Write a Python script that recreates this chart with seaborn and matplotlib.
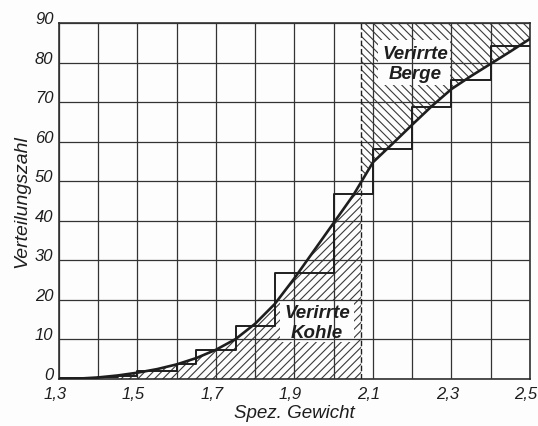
import numpy as np
import pandas as pd
import matplotlib
matplotlib.use("Agg")
import matplotlib.pyplot as plt
from matplotlib.patches import Rectangle
from matplotlib.transforms import ScaledTranslation
import seaborn as sns

# ---- data ----
step_edges = [1.3, 1.4, 1.45, 1.5, 1.6, 1.65, 1.75, 1.85, 2.0, 2.1, 2.2, 2.3, 2.4, 2.5]
step_values = [0.2, 0.5, 0.8, 1.9, 3.8, 7.3, 13.4, 26.8, 46.7, 58.2, 68.7, 75.7, 84.1, 84.1]

curve_x = [1.3, 1.35, 1.4, 1.45, 1.5, 1.55, 1.6, 1.65, 1.7, 1.75, 1.8, 1.85, 1.9,
           1.95, 2.0, 2.05, 2.1, 2.15, 2.2, 2.25, 2.3, 2.35, 2.4, 2.45, 2.5]
curve_y = [0.0, 0.1, 0.4, 0.9, 1.6, 2.5, 3.7, 5.3, 7.4, 10.1, 14.0, 19.0, 25.5,
           32.5, 39.5, 46.5, 54.8, 59.5, 64.3, 69.0, 73.3, 76.6, 79.7, 82.8, 86.0]

split_x = 2.07          # dashed separation
kohle_start = 1.45
x_ticks = [1.3, 1.4, 1.5, 1.6, 1.7, 1.8, 1.9, 2.0, 2.1, 2.2, 2.3, 2.4, 2.5]
x_ticklabels = ["1,3", "", "1,5", "", "1,7", "", "1,9", "", "2,1", "", "2,3", "", "2,5"]
y_ticks = [0, 10, 20, 30, 40, 50, 60, 70, 80, 90]
labels = ["Verirrte\nBerge", "Verirrte\nKohle"]

sns.set_theme(style="white")
plt.rcParams['font.family'] = ['Liberation Sans', 'DejaVu Sans']
plt.rcParams['hatch.linewidth'] = 0.8

ink = "#1e1e1e"
bg = "#fdfdfd"
fig = plt.figure(figsize=(5.38, 4.27), dpi=100)
fig.patch.set_facecolor(bg)
ax = fig.add_axes([59/538, 1-380/427, (530-59)/538, (380-24)/427])
ax.set_facecolor(bg)

# hatched regions
xk = np.linspace(kohle_start, split_x, 200)
ax.fill_between(xk, 0, np.interp(xk, curve_x, curve_y), facecolor="none",
                edgecolor="#3a3a3a", hatch="////", linewidth=0, zorder=1)
xb = np.linspace(split_x, 2.5, 200)
ax.fill_between(xb, np.interp(xb, curve_x, curve_y), 90, facecolor="none",
                edgecolor="#3a3a3a", hatch="\\\\\\\\", linewidth=0, zorder=1)

# white label patches (grid still runs over them)
ax.add_patch(Rectangle((2.112, 74.4), 0.185, 11.3, facecolor=bg, edgecolor="none", zorder=1.5))
ax.add_patch(Rectangle((1.862, 9.3), 0.19, 10.4, facecolor=bg, edgecolor="none", zorder=1.5))

# step and curve
step_df = pd.DataFrame({"x": step_edges, "y": step_values})
sns.lineplot(data=step_df, x="x", y="y", drawstyle="steps-post", color=ink,
             lw=1.4, estimator=None, ax=ax, zorder=4)
curve_df = pd.DataFrame({"x": curve_x, "y": curve_y})
sns.lineplot(data=curve_df, x="x", y="y", color=ink, lw=1.9, estimator=None,
             ax=ax, zorder=5)

ax.axvline(split_x, color=ink, lw=1.0, ls=(0, (4, 2)), zorder=3)

ax.set_xlim(1.3, 2.5)
ax.set_ylim(0, 90)
ax.set_xticks(x_ticks)
ax.set_xticklabels(x_ticklabels)
ax.set_yticks(y_ticks)
ax.set_axisbelow(False)
ax.grid(True, color="#333333", lw=0.9, zorder=2)
ax.tick_params(length=0, labelsize=12, labelcolor=ink)
ax.tick_params(axis="x", pad=5)
ax.tick_params(axis="y", pad=4)
shift = ScaledTranslation(-4/100, 0, fig.dpi_scale_trans)
for lab in ax.get_xticklabels():
    lab.set_style("italic")
    lab.set_transform(lab.get_transform() + shift)
for lab in ax.get_yticklabels():
    lab.set_style("italic")
    lab.set_verticalalignment("baseline")
for s in ax.spines.values():
    s.set_color(ink)
    s.set_linewidth(1.1)

ax.set_xlabel("Spez. Gewicht", fontsize=13.5, style="italic", color=ink, labelpad=2)
ax.set_ylabel("Verteilungszahl", fontsize=14, style="italic", color=ink, labelpad=3)

ax.text(2.207, 79.8, labels[0], ha="center", va="center", fontsize=13.5,
        style="italic", fontweight="bold", color=ink, linespacing=1.25, zorder=6)
ax.text(1.957, 14.3, labels[1], ha="center", va="center", fontsize=13.5,
        style="italic", fontweight="bold", color=ink, linespacing=1.25, zorder=6)

fig.savefig("out.png", dpi=100, facecolor=fig.get_facecolor())
